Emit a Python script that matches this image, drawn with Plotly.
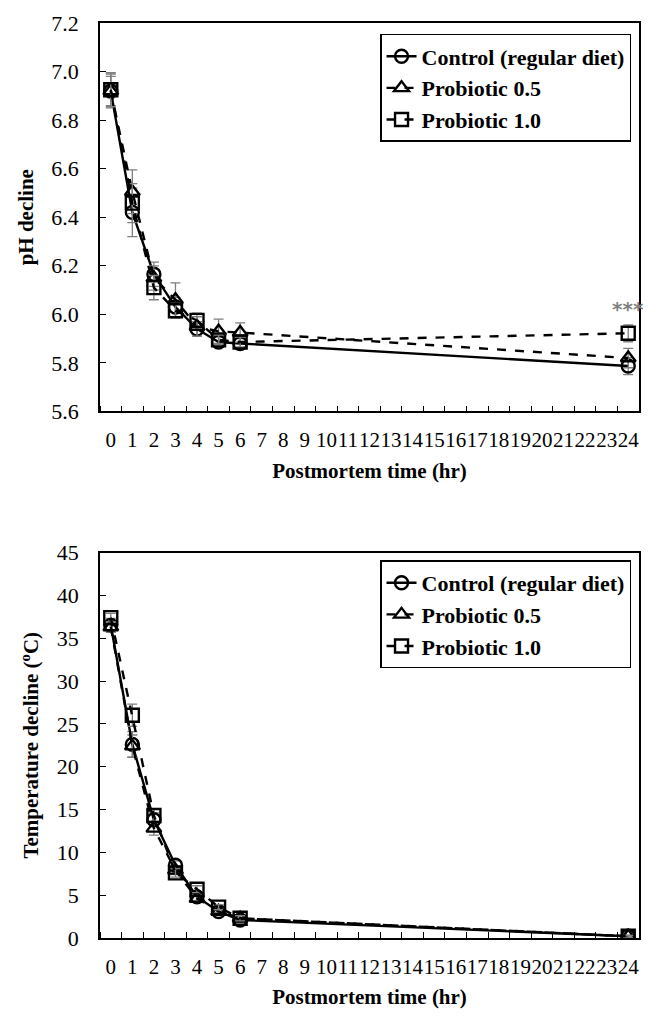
import plotly.graph_objects as go
from plotly.subplots import make_subplots

hours = [0, 1, 2, 3, 4, 5, 6, 24]
tick_labels = [str(i) for i in range(25)]
series_names = ["Control (regular diet)", "Probiotic 0.5", "Probiotic 1.0"]

ph_control = [6.92, 6.42, 6.165, 6.03, 5.94, 5.886, 5.88, 5.787]
ph_p05 = [6.92, 6.505, 6.15, 6.06, 5.95, 5.93, 5.925, 5.82]
ph_p10 = [6.925, 6.458, 6.11, 6.015, 5.975, 5.895, 5.886, 5.922]
ph_control_err = [0.06, 0.1, 0.05, 0.04, 0.03, 0.02, 0.02, 0.035]
ph_p05_err = [0.07, 0.09, 0.05, 0.07, 0.04, 0.05, 0.04, 0.04]
ph_p10_err = [0.07, 0.08, 0.05, 0.03, 0.03, 0.02, 0.02, 0.035]

temp_control = [36.5, 22.6, 13.8, 8.5, 4.8, 3.1, 2.1, 0.2]
temp_p05 = [36.3, 22.4, 12.8, 7.9, 4.6, 3.1, 2.3, 0.2]
temp_p10 = [37.4, 26.0, 14.3, 7.6, 5.7, 3.6, 2.3, 0.2]
temp_control_err = [0.8, 1.5, 0.8, 0.5, 0.4, 0.3, 0.3, 0.1]
temp_p05_err = [0.6, 1.3, 0.8, 0.5, 0.4, 0.3, 0.3, 0.1]
temp_p10_err = [0.5, 1.3, 0.8, 0.5, 0.4, 0.3, 0.3, 0.1]

symbols = ["circle-open", "triangle-up-open", "square-open"]
dashes = ["solid", "dash", "dash"]
FONT = "Liberation Serif"

fig = make_subplots(rows=2, cols=1)

def add_series(vals_list, errs_list, row, legend):
    for i, (name, vals, errs, sym, dash) in enumerate(zip(series_names, vals_list, errs_list, symbols, dashes)):
        fig.add_trace(go.Scatter(
            x=hours, y=vals, name=name, mode="lines+markers",
            line=dict(color="black", width=2.4, dash=dash),
            marker=dict(symbol=sym, size=13, color="black", line=dict(width=2.4, color="black")),
            error_y=dict(type="data", array=errs, visible=True, color="#7f7f7f", thickness=1.3, width=5),
            legend=legend, legendgroup=f"{legend}_{i}",
        ), row=row, col=1)

add_series([ph_control, ph_p05, ph_p10], [ph_control_err, ph_p05_err, ph_p10_err], 1, "legend")
add_series([temp_control, temp_p05, temp_p10], [temp_control_err, temp_p05_err, temp_p10_err], 2, "legend2")

# page has an 8px body margin: figure placed at (8, 8)
W, H = 636, 1001
l, r, t, b = 92, 3, 14, 66
ph_h = H - t - b
top_dom = [(943 - 413) / ph_h, 1.0]
bot_dom = [0.0, (943 - 555) / ph_h]

title_font = dict(family=FONT, size=21, color="black", weight="bold")
xcommon = dict(
    range=[-0.5, 24.5], tickmode="array", tickvals=list(range(25)), ticktext=tick_labels,
    ticks="", tickangle=0, showline=True, linecolor="black", linewidth=1.5, mirror=True,
    showgrid=False, zeroline=False, ticklabelstandoff=9,
    minor=dict(tickmode="linear", tick0=0.5, dtick=1, ticks="inside", ticklen=6, tickcolor="black", showgrid=False),
    tickfont=dict(family=FONT, size=21, color="black"),
    title=dict(text="Postmortem time (hr)", font=title_font, standoff=12),
)
ycommon = dict(
    showline=True, linecolor="black", linewidth=1.5, mirror=True, showgrid=False, zeroline=False,
    ticks="inside", ticklen=6, tickcolor="black", ticksuffix="\u00a0", ticklabelstandoff=15,
    tickfont=dict(family=FONT, size=22, color="black"),
)
legend_common = dict(
    bordercolor="black", borderwidth=1.5, bgcolor="white", tracegroupgap=0,
    font=dict(family=FONT, size=22, color="black", weight="bold"),
)

fig.update_layout(
    width=W, height=H, margin=dict(l=l, r=r, t=t, b=b),
    paper_bgcolor="white", plot_bgcolor="white",
    xaxis=dict(**xcommon),
    xaxis2=dict(**xcommon),
    yaxis=dict(**ycommon, domain=top_dom, range=[5.6, 7.2], tickvals=[5.6 + 0.2 * i for i in range(9)],
               tickformat=".1f",
               title=dict(text="pH decline", font=title_font, standoff=12)),
    yaxis2=dict(**ycommon, domain=bot_dom, range=[0, 45], tickvals=list(range(0, 46, 5)),
                title=dict(text="Temperature decline (<sup>o</sup>C)", font=title_font, standoff=12)),
    legend=dict(**legend_common, x=(633 - 100) / 541, y=(943 - 33) / ph_h, xanchor="right", yanchor="top"),
    legend2=dict(**legend_common, x=(633 - 100) / 541, y=(943 - 563) / ph_h, xanchor="right", yanchor="top"),
    showlegend=True,
)

fig.add_annotation(x=24, y=6.02, xref="x", yref="y", text="***", showarrow=False,
                   font=dict(family="DejaVu Sans", size=20, color="#7f7f7f", weight="bold"), yanchor="middle")

fig.write_html("out.html")
